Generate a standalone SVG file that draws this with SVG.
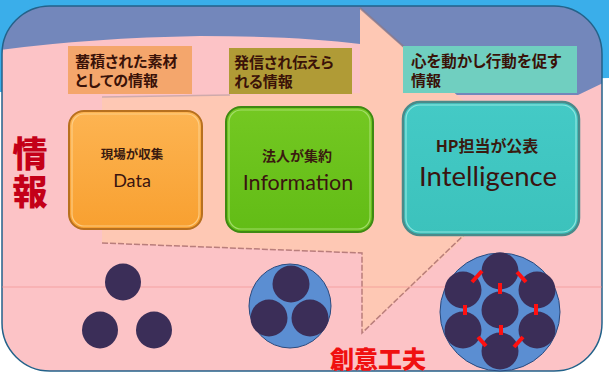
<svg xmlns="http://www.w3.org/2000/svg" width="609" height="374" viewBox="0 0 609 374">
  <style>
    .jp { font-family: "Noto Sans CJK JP", "Noto Sans", sans-serif; font-feature-settings: "palt"; }
    .label-text { font-size: 15px; font-weight: 700; fill: #3a1208; }
    .node-sub { font-weight: 700; fill: #3a1a10; text-anchor: middle; }
    .node-main { font-family: Lato, "Open Sans", sans-serif; fill: #3a1410; text-anchor: middle; }
    .dot { fill: #3b2e58; }
    .bar { stroke: #ff1010; stroke-width: 4; }
    .ring { fill: #5b8ed2; stroke: #2a4a7e; stroke-width: 1; }
  </style>
  <defs>
    <clipPath id="panel-clip">
      <rect x="2" y="6" width="600" height="365" rx="48"/>
    </clipPath>
    <linearGradient id="g-orange" x1="0" y1="0" x2="0" y2="1">
      <stop offset="0" stop-color="#fdb452"/>
      <stop offset="1" stop-color="#f8a030"/>
    </linearGradient>
    <linearGradient id="g-green" x1="0" y1="0" x2="0" y2="1">
      <stop offset="0" stop-color="#74c822"/>
      <stop offset="1" stop-color="#62bc16"/>
    </linearGradient>
    <linearGradient id="g-teal" x1="0" y1="0" x2="0" y2="1">
      <stop offset="0" stop-color="#44cac6"/>
      <stop offset="1" stop-color="#3cc2bc"/>
    </linearGradient>
  </defs>

  <!-- backdrop outside the panel -->
  <rect width="609" height="374" fill="#ffffff"/>
  <polygon points="0,0 609,0 609,78 0,92" fill="#3aaeea"/>

  <!-- rounded panel: pink body with grey-blue sky band -->
  <g id="panel">
    <rect x="2" y="6" width="600" height="365" rx="48" fill="#fcc3c6"/>
    <g clip-path="url(#panel-clip)">
      <path d="M0,0 H609 V80 L578,95 L400,95 L360,44 Q300,36 200,36 Q90,38 0,50 Z" fill="#7387bb"/>
    </g>
    <rect x="2" y="6" width="600" height="365" rx="48" fill="none" stroke="#23628a" stroke-width="1.5"/>
  </g>

  <!-- big flow arrow behind the stages -->
  <g id="connectors">
    <polygon points="102,97 360,93 360,8 538,168 362,333 362,253 102,243" fill="#fec8b4"/>
    <polyline points="102,243 362,253 362,333 468,231" fill="none" stroke="#a86c6c" stroke-width="1.5" stroke-dasharray="6 2" opacity="0.8"/>
    <line x1="360" y1="8" x2="404" y2="47" stroke="#8a7a8c" stroke-width="2" opacity="0.8"/>
    <line x1="102" y1="97" x2="230" y2="95" stroke="#c4a4a8" stroke-width="1.5" opacity="0.8"/>
  </g>
  <line x1="2" y1="287" x2="602" y2="287" stroke="#f08c8c" stroke-width="1" opacity="0.6"/>

  <!-- caption boxes -->
  <g id="label-material">
    <rect x="68" y="46" width="124" height="48" fill="#f4a66c"/>
    <text class="jp label-text" x="75" y="67">蓄積された素材</text>
    <text class="jp label-text" x="75" y="86">としての情報</text>
  </g>
  <g id="label-transmitted">
    <rect x="229" y="48" width="123" height="46" fill="#b09b36"/>
    <text class="jp label-text" x="234" y="68">発信され伝えら</text>
    <text class="jp label-text" x="234" y="87">れる情報</text>
  </g>
  <g id="label-action">
    <rect x="403" y="46" width="174" height="47" fill="#70cfc0"/>
    <text class="jp label-text" x="411" y="67" style="font-size:15.5px">心を動かし行動を促す</text>
    <text class="jp label-text" x="411" y="86">情報</text>
  </g>

  <!-- stage nodes -->
  <g id="node-data">
    <rect x="69" y="111" width="133" height="118" rx="15" fill="url(#g-orange)" stroke="#b8701e" stroke-width="2"/>
    <rect x="72" y="114" width="127" height="112" rx="12" fill="none" stroke="#fdd594" stroke-width="1.2" opacity="0.8"/>
    <text class="jp node-sub" x="132" y="159" style="font-size:12.5px">現場が収集</text>
    <text class="node-main" x="132" y="187" font-size="18">Data</text>
  </g>
  <g id="node-information">
    <rect x="226" y="107" width="147" height="125" rx="15" fill="url(#g-green)" stroke="#3e8a12" stroke-width="2"/>
    <rect x="229" y="110" width="141" height="119" rx="12" fill="none" stroke="#b0e47c" stroke-width="1.2" opacity="0.8"/>
    <text class="jp node-sub" x="297" y="161" style="font-size:14px">法人が集約</text>
    <text class="node-main" x="298" y="190" font-size="21.5">Information</text>
  </g>
  <g id="node-intelligence">
    <rect x="403" y="102" width="176" height="133" rx="17" fill="url(#g-teal)" stroke="#4a8a8a" stroke-width="2.5"/>
    <rect x="406" y="105" width="170" height="127" rx="14" fill="none" stroke="#a4ece6" stroke-width="1.2" opacity="0.8"/>
    <text class="jp node-sub" x="487" y="152" style="font-size:16px">HP担当が公表</text>
    <text class="node-main" x="488" y="186" font-size="27.5">Intelligence</text>
  </g>

  <!-- loose individuals -->
  <g id="group-loose">
    <ellipse class="dot" cx="123" cy="282" rx="18" ry="18.5"/>
    <ellipse class="dot" cx="100" cy="330" rx="18" ry="18.5"/>
    <ellipse class="dot" cx="154" cy="330" rx="18" ry="18.5"/>
  </g>

  <!-- gathered trio -->
  <g id="group-trio">
    <ellipse class="ring" cx="290" cy="306" rx="41" ry="42"/>
    <circle class="dot" cx="291" cy="284" r="18.5"/>
    <circle class="dot" cx="269" cy="318" r="18.5"/>
    <circle class="dot" cx="310" cy="318" r="18.5"/>
  </g>

  <!-- linked cluster -->
  <g id="group-cluster">
    <ellipse class="ring" cx="500" cy="312" rx="60" ry="59"/>
    <circle class="dot" cx="500" cy="271" r="18.5"/>
    <circle class="dot" cx="463" cy="290" r="18.5"/>
    <circle class="dot" cx="537" cy="290" r="18.5"/>
    <circle class="dot" cx="500" cy="310" r="18.5"/>
    <circle class="dot" cx="463" cy="330" r="18.5"/>
    <circle class="dot" cx="537" cy="330" r="18.5"/>
    <circle class="dot" cx="500" cy="351" r="18.5"/>
    <line class="bar" x1="472" y1="282" x2="482" y2="271"/>
    <line class="bar" x1="517" y1="272" x2="526" y2="282"/>
    <line class="bar" x1="500" y1="283" x2="500" y2="294"/>
    <line class="bar" x1="465" y1="305" x2="465" y2="315"/>
    <line class="bar" x1="536" y1="304" x2="536" y2="315"/>
    <line class="bar" x1="501" y1="325" x2="501" y2="335"/>
    <line class="bar" x1="478" y1="337" x2="486" y2="346"/>
    <line class="bar" x1="514" y1="347" x2="523" y2="337"/>
  </g>

  <!-- side and bottom headings -->
  <g id="title-joho">
    <text class="jp" x="30" y="136" writing-mode="vertical-rl" style="font-size:35px; font-weight:900; letter-spacing:3px; font-feature-settings:normal" fill="#c40018">情報</text>
  </g>
  <g id="title-soui">
    <text class="jp" x="378" y="368" font-size="24" font-weight="900" fill="#f01010" text-anchor="middle" style="font-feature-settings: normal">創意工夫</text>
  </g>
</svg>
